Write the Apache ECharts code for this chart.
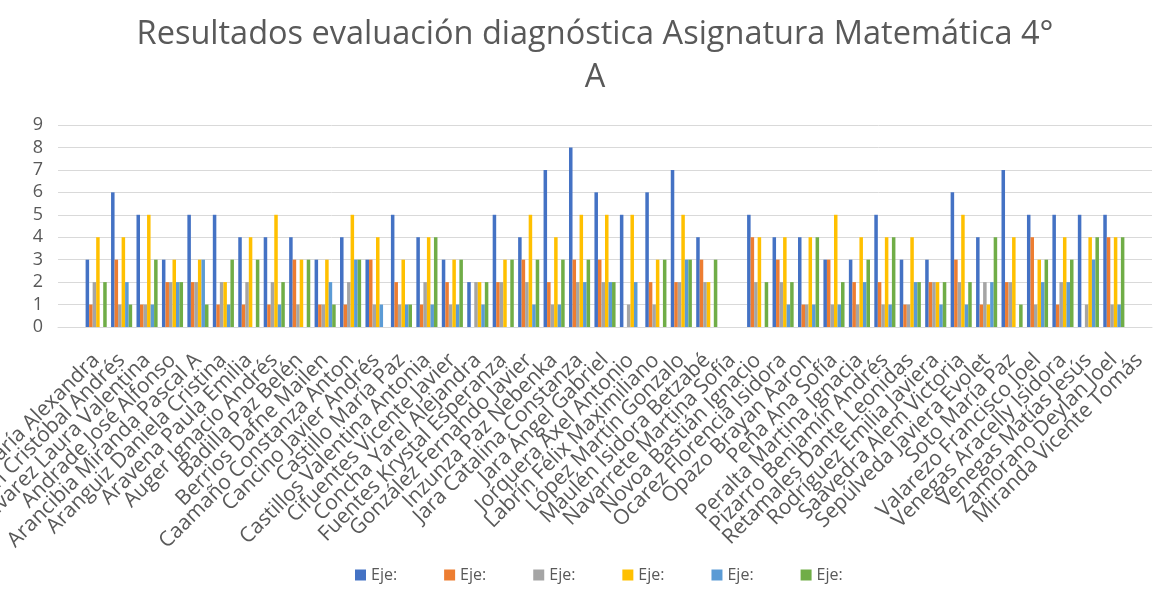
<!DOCTYPE html>
<html>
<head>
<meta charset="utf-8">
<script src="https://cdn.jsdelivr.net/npm/echarts@6/dist/echarts.min.js"></script>
<style>
  html, body { margin: 0; padding: 0; background: #ffffff; }
  #chart { width: 1165px; height: 608px; }
</style>
</head>
<body>
<div id="chart"></div>
<script>
const titleText = 'Resultados evaluación diagnóstica Asignatura Matemática 4°\nA';
const categories = [
  'Aguilera María Alexandra', 'Alarcón Cristóbal Andrés', 'Álvarez Laura Valentina', 'Andrade José Alfonso',
  'Arancibia Miranda Pascal A', 'Aranguiz Daniela Cristina', 'Aravena Paula Emilia', 'Auger Ignacio Andrés',
  'Badilla Paz Belén', 'Berrios Dafne Mailen', 'Caamaño Constanza Anton', 'Cancino Javier Andrés',
  'Castillo María Paz', 'Castillos Valentina Antonia', 'Cifuentes Vicente Javier', 'Concha Yarel Alejandra',
  'Fuentes Krystal Esperanza', 'González Fernando Javier', 'Inzunza Paz Nebenka', 'Jara Catalina Constanza',
  'Jara Ángel Gabriel', 'Jorquera Axel Antonio', 'Labrín Félix Maximiliano', 'López Martín Gonzalo',
  'Maulén Isidora Betzabé', 'Navarrete Martina Sofía', 'Novoa Bastián Ignacio', 'Ocarez Florencia Isidora',
  'Opazo Brayan Aaron', 'Peña Ana Sofía', 'Peralta Martina Ignacia', 'Pizarro Benjamín Andrés',
  'Retamales Dante Leonidas', 'Rodríguez Emilia Javiera', 'Saavedra Alem Victoria', 'Sepúlveda Javiera Evolet',
  'Soto María Paz', 'Valarezo Francisco Joel', 'Venegas Aracelly Isidora', 'Venegas Matías Jesús',
  'Zamorano Deylan Joel', 'Miranda Vicente Tomás'
];
const yTicks = [0, 1, 2, 3, 4, 5, 6, 7, 8, 9];
const legendLabel = 'Eje:';
const seriesNames = ['Eje 1', 'Eje 2', 'Eje 3', 'Eje 4', 'Eje 5', 'Eje 6'];
const eje1 = [3,6,5,3,5,5,4,4,4,3,4,3,5,4,3,2,5,4,7,8,6,5,6,7,4,null,5,4,4,3,3,5,3,3,6,4,7,5,5,5,5,null];
const eje2 = [1,3,1,2,2,1,1,1,3,1,1,3,2,1,2,0,2,3,2,3,3,0,2,2,3,null,4,3,1,3,2,2,1,2,3,1,2,4,1,0,4,null];
const eje3 = [2,1,1,2,2,2,2,2,1,1,2,1,1,2,1,2,2,2,1,2,2,1,1,2,2,null,2,2,1,1,1,1,1,2,2,2,2,1,2,1,1,null];
const eje4 = [4,4,5,3,3,2,4,5,3,3,5,4,3,4,3,2,3,5,4,5,5,5,3,5,2,null,4,4,4,5,4,4,4,2,5,1,4,3,4,4,4,null];
const eje5 = [0,2,1,2,3,1,0,1,0,2,3,1,1,1,1,1,0,1,1,2,2,2,0,3,0,null,0,1,1,1,2,1,2,1,1,2,0,2,2,3,1,null];
const eje6 = [2,1,3,2,1,3,3,2,3,1,3,0,1,4,3,2,3,3,3,3,2,0,3,3,3,null,2,2,4,2,3,4,2,2,2,4,1,3,3,4,4,null];
const seriesValues = [eje1, eje2, eje3, eje4, eje5, eje6];
const colors = ['#4472C4', '#ED7D31', '#A5A5A5', '#FFC000', '#5B9BD5', '#70AD47'];

// A leading blank slot on the category axis, as in the reference
const axisCategories = [''].concat(categories);

const chart = echarts.init(document.getElementById('chart'), null, { renderer: 'canvas' });
const font = '"Open Sans", "Liberation Sans", sans-serif';
chart.setOption({
  animation: false,
  backgroundColor: '#ffffff',
  color: colors,
  title: {
    text: titleText,
    left: 590,
    textAlign: 'center',
    top: 8,
    textStyle: { fontFamily: font, fontSize: 32.5, fontWeight: 'normal', color: '#595959', lineHeight: 43 }
  },
  legend: {
    data: seriesNames,
    left: 350,
    top: 562,
    itemWidth: 11,
    itemHeight: 11,
    itemGap: 47,
    icon: 'rect',
    formatter: () => legendLabel,
    textStyle: { fontFamily: font, fontSize: 16, color: '#595959' }
  },
  grid: { left: 58, right: 13, top: 125, bottom: 281, containLabel: false, outerBoundsMode: 'none' },
  xAxis: {
    type: 'category',
    data: axisCategories,
    axisLine: { show: true, lineStyle: { color: '#D9D9D9', width: 1 } },
    axisTick: { show: false },
    axisLabel: {
      interval: 0,
      rotate: 45,
      margin: 30,
      fontFamily: font,
      fontSize: 21,
      color: '#595959'
    }
  },
  yAxis: {
    type: 'value',
    min: yTicks[0],
    max: yTicks[yTicks.length - 1],
    interval: 1,
    axisLine: { show: false },
    axisTick: { show: false },
    axisLabel: { fontFamily: font, fontSize: 18, color: '#595959', margin: 15 },
    splitLine: { lineStyle: { color: '#D9D9D9', width: 1 } }
  },
  series: seriesNames.map((name, i) => ({
    name: name,
    type: 'bar',
    data: [null].concat(seriesValues[i]),
    barGap: '0%',
    barCategoryGap: '17%',
    itemStyle: { color: colors[i] }
  }))
});
</script>
</body>
</html>
